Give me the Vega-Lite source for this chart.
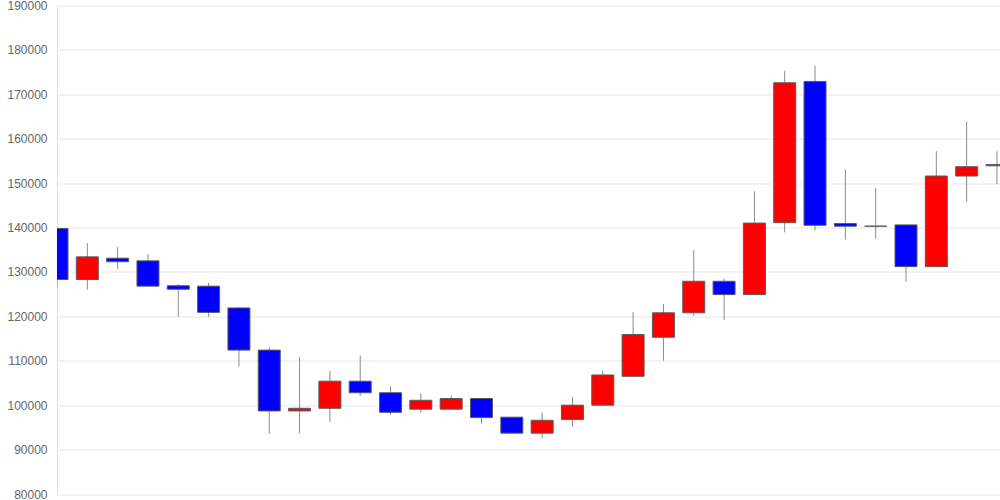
{
  "$schema": "https://vega.github.io/schema/vega-lite/v6.json",
  "width": 943,
  "height": 488.5,
  "autosize": {"type": "none"},
  "padding": {"left": 57, "top": 5.5, "right": 0, "bottom": 6},
  "background": "white",
  "config": {"view": {"stroke": null}, "font": "Liberation Sans"},
  "data": {"values": [
    {"i": 0, "o": 139800, "h": 139800, "l": 126600, "c": 128300},
    {"i": 1, "o": 128300, "h": 136500, "l": 126000, "c": 133400},
    {"i": 2, "o": 133100, "h": 135600, "l": 130700, "c": 132300},
    {"i": 3, "o": 132500, "h": 134000, "l": 126650, "c": 126800},
    {"i": 4, "o": 126900, "h": 127250, "l": 119900, "c": 126100},
    {"i": 5, "o": 126800, "h": 127500, "l": 119900, "c": 120900},
    {"i": 6, "o": 121900, "h": 122000, "l": 108700, "c": 112400},
    {"i": 7, "o": 112400, "h": 113000, "l": 93600, "c": 98700},
    {"i": 8, "o": 98700, "h": 110800, "l": 93700, "c": 99300},
    {"i": 9, "o": 99300, "h": 107700, "l": 96200, "c": 105400},
    {"i": 10, "o": 105400, "h": 111200, "l": 102050, "c": 102800},
    {"i": 11, "o": 102800, "h": 104300, "l": 97850, "c": 98400},
    {"i": 12, "o": 99100, "h": 102650, "l": 98300, "c": 101100},
    {"i": 13, "o": 99100, "h": 102200, "l": 99000, "c": 101500},
    {"i": 14, "o": 101500, "h": 101500, "l": 95900, "c": 97200},
    {"i": 15, "o": 97300, "h": 97300, "l": 93600, "c": 93700},
    {"i": 16, "o": 93700, "h": 98400, "l": 92500, "c": 96600},
    {"i": 17, "o": 96800, "h": 101800, "l": 95150, "c": 100000},
    {"i": 18, "o": 100000, "h": 107800, "l": 100000, "c": 106800},
    {"i": 19, "o": 106500, "h": 120950, "l": 106400, "c": 115900},
    {"i": 20, "o": 115300, "h": 122750, "l": 110000, "c": 120800},
    {"i": 21, "o": 120800, "h": 134900, "l": 120100, "c": 127900},
    {"i": 22, "o": 127900, "h": 128500, "l": 119200, "c": 124900},
    {"i": 23, "o": 124900, "h": 148200, "l": 124850, "c": 141000},
    {"i": 24, "o": 141100, "h": 175300, "l": 138900, "c": 172600},
    {"i": 25, "o": 172900, "h": 176500, "l": 139300, "c": 140500},
    {"i": 26, "o": 140900, "h": 153000, "l": 137300, "c": 140300},
    {"i": 27, "o": 140300, "h": 148900, "l": 137450, "c": 140300},
    {"i": 28, "o": 140600, "h": 140600, "l": 127800, "c": 131200},
    {"i": 29, "o": 131200, "h": 157200, "l": 131200, "c": 151600},
    {"i": 30, "o": 151600, "h": 163800, "l": 145800, "c": 153700},
    {"i": 31, "o": 153900, "h": 157200, "l": 149800, "c": 154200}
  ]},
  "encoding": {
    "x": {"field": "i", "type": "quantitative", "scale": {"domain": [0, 31.1], "nice": false, "zero": false, "padding": 0}, "axis": null},
    "y": {"type": "quantitative", "scale": {"domain": [80000, 190000], "nice": false, "zero": false},
      "axis": {"values": [80000, 90000, 100000, 110000, 120000, 130000, 140000, 150000, 160000, 170000, 180000, 190000],
        "format": "d", "title": null, "tickSize": 0, "labelPadding": 10, "labelFontSize": 12, "labelColor": "#666666",
        "gridColor": "#e6e6e6", "domainColor": "#e0e0e0", "labelFont": "Liberation Sans"}}
  },
  "layer": [
    {
      "mark": {"type": "rule", "color": "#8a8a8a", "strokeWidth": 1, "clip": true},
      "encoding": {"y": {"field": "l", "type": "quantitative"}, "y2": {"field": "h"}}
    },
    {
      "mark": {"type": "bar", "size": 22, "stroke": "#5a5a5a", "strokeWidth": 1, "clip": true},
      "encoding": {
        "y": {"field": "o", "type": "quantitative"},
        "y2": {"field": "c"},
        "color": {"condition": {"test": "datum.c > datum.o", "value": "#ff0000"}, "value": "#0000ff"}
      }
    }
  ]
}
